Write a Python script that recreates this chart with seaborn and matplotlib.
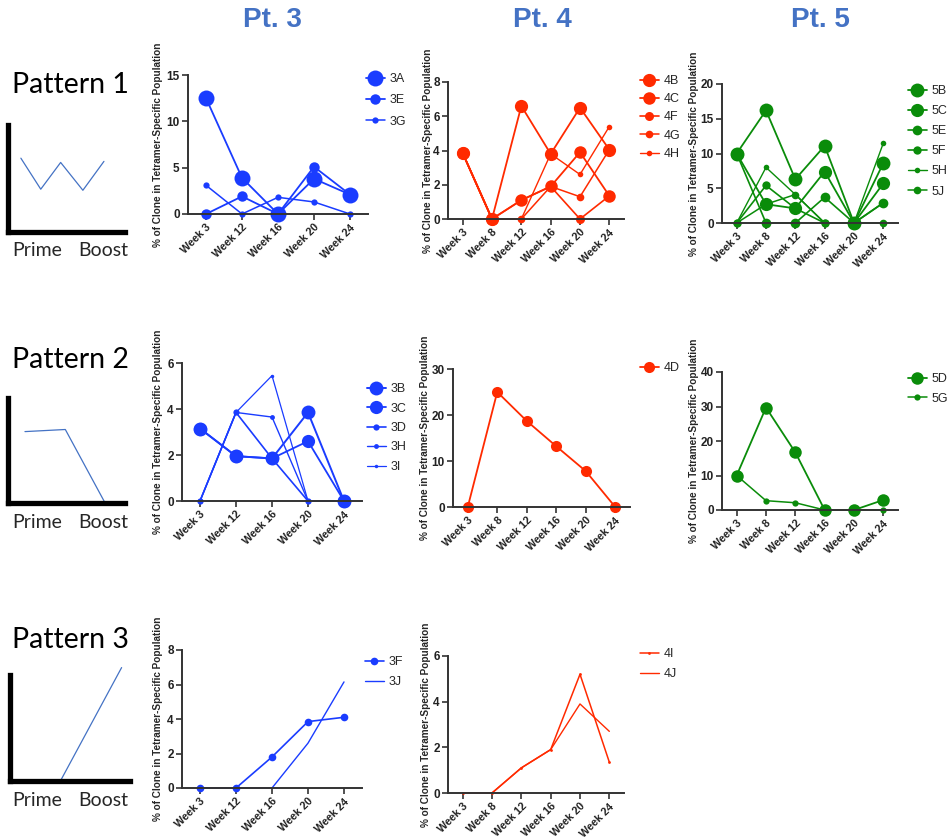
import matplotlib
matplotlib.use("Agg")
import matplotlib.pyplot as plt
from matplotlib.lines import Line2D
import seaborn as sns
import pandas as pd

W, H = 948, 839

weeks_pt3 = ["Week 3", "Week 12", "Week 16", "Week 20", "Week 24"]
weeks_pt45 = ["Week 3", "Week 8", "Week 12", "Week 16", "Week 20", "Week 24"]

# pattern 1 clones
c3A = [12.5, 3.9, 0, 3.8, 2.1]
c3E = [0, 1.9, 0, 5.1, 2.1]
c3G = [3.1, 0, 1.8, 1.3, 0]
c4B = [3.85, 0, 6.6, 3.8, 6.5, 4.05]
c4C = [3.85, 0, 1.1, 1.9, 3.9, 1.35]
c4F = [3.85, 0, 1.1, 1.9, 0, 1.35]
c4G = [3.85, 0, 0, 1.9, 1.3, 4.05]
c4H = [3.85, 0, 0, 3.8, 2.6, 5.4]
c5B = [10, 16.2, 6.3, 11.1, 0, 8.6]
c5C = [10, 2.7, 2.1, 7.4, 0, 5.7]
c5E = [10, 0, 0, 3.7, 0, 2.9]
c5F = [0, 5.4, 2.1, 0, 0, 2.9]
c5H = [0, 8.0, 4.1, 0, 0, 11.5]
c5J = [0, 2.7, 4.1, 0, 0, 0]

# pattern 2 clones
c3B = [3.15, 1.95, 1.85, 3.85, 0]
c3C = [3.15, 1.95, 1.85, 2.6, 0]
c3D = [0, 3.85, 1.85, 0, 0]
c3H = [0, 3.85, 3.65, 0, 0]
c3I = [0, 3.85, 5.45, 0, 0]
c4D = [0, 25, 18.7, 13.2, 7.8, 0]
c5D = [10, 29.7, 16.7, 0, 0, 2.9]
c5G = [10, 2.7, 2.1, 0, 0, 0]

# pattern 3 clones
c3F = [0, 0, 1.8, 3.85, 4.1]
c3J = [0, 0, 0, 2.6, 6.15]
c4I = [0, 0, 1.1, 1.9, 5.2, 1.35]
c4J = [0, 0, 1.1, 1.9, 3.9, 2.7]

# schematic shapes (left column)
sketch1_x = [0.11, 0.28, 0.45, 0.64, 0.82]
sketch1_y = [0.69, 0.40, 0.65, 0.39, 0.66]
sketch2_x = [0.145, 0.49, 0.83]
sketch2_y = [0.68, 0.70, 0.0]
sketch3_x = [0.42, 0.93]
sketch3_y = [0.0, 1.07]

BLUE = "#1a3cff"
RED = "#ff2a00"
GREEN = "#0a8c0a"
TITLE = "#4472c4"
YLABEL = "% of Clone in Tetramer-Specific Population"

sns.set_theme(style="ticks")
plt.rcParams["font.family"] = ["Liberation Sans", "DejaVu Sans"]

fig = plt.figure(figsize=(W / 100, H / 100), dpi=100)


def px_axes(l, t, r, b):
    return fig.add_axes([l / W, 1 - b / H, (r - l) / W, (b - t) / H])


def panel(box, weeks, series, color, yticks, leg_x, leg_y, spacing, label_x):
    ax = px_axes(*box)
    handles = []
    for name, vals, ms, lw in series:
        df = pd.DataFrame({"pos": range(len(weeks)), "value": vals})
        mk = "o" if ms > 0 else None
        sns.lineplot(data=df, x="pos", y="value", ax=ax, color=color,
                     marker=mk, markersize=ms, linewidth=lw,
                     markeredgewidth=0, estimator=None, sort=False,
                     clip_on=False)
        handles.append(Line2D([0], [0], color=color, marker=mk,
                              markersize=ms, lw=lw, markeredgewidth=0))
    ax.set_xlim(-0.5, len(weeks) - 0.5)
    ax.set_ylim(0, yticks[-1])
    ax.set_yticks(yticks)
    ax.set_yticklabels([str(v) for v in yticks], fontsize=8.5, fontweight="bold")
    ax.set_xticks(range(len(weeks)))
    ax.set_xticklabels(weeks, rotation=45, ha="right", rotation_mode="anchor",
                       fontsize=7.8, fontweight="bold")
    ax.set_xlabel("")
    ax.set_ylabel(YLABEL, fontsize=7.2, fontweight="bold")
    axw = box[2] - box[0]
    ax.yaxis.set_label_coords((label_x - box[0]) / axw, 0.5)
    sns.despine(ax=ax)
    for s in ("left", "bottom"):
        ax.spines[s].set_linewidth(1.4)
        ax.spines[s].set_color("#333333")
    ax.tick_params(length=4, width=1.2, color="#333333", pad=2,
                   labelcolor="#222222")
    ax.legend(handles, [s[0] for s in series], loc="upper left",
              bbox_to_anchor=(leg_x / W, 1 - leg_y / H),
              bbox_transform=fig.transFigure, frameon=False, fontsize=9,
              handlelength=1.5, handletextpad=0.4, borderpad=0,
              borderaxespad=0, labelspacing=spacing)
    return ax


# row 1: pattern 1
panel((188, 75, 368, 214), weeks_pt3,
      [("3A", c3A, 11.5, 1.3), ("3E", c3E, 7.5, 1.3), ("3G", c3G, 4.5, 1.1)],
      BLUE, [0, 5, 10, 15], 366, 73, 0.75, 163)
panel((448, 82, 624, 219), weeks_pt45,
      [("4B", c4B, 9.5, 1.3), ("4C", c4C, 9, 1.3), ("4F", c4F, 6.5, 1.2),
       ("4G", c4G, 5.5, 1.1), ("4H", c4H, 4, 1.0)],
      RED, [0, 2, 4, 6, 8], 640, 75, 0.5, 433)
panel((722, 84, 898, 223), weeks_pt45,
      [("5B", c5B, 10, 1.3), ("5C", c5C, 9.5, 1.3), ("5E", c5E, 7, 1.2),
       ("5F", c5F, 6, 1.2), ("5H", c5H, 4, 1.0), ("5J", c5J, 5.5, 1.1)],
      GREEN, [0, 5, 10, 15, 20], 908, 85, 0.65, 699)

# row 2: pattern 2
panel((182, 363, 362, 501), weeks_pt3,
      [("3B", c3B, 10, 1.4), ("3C", c3C, 9.5, 1.3), ("3D", c3D, 4.5, 1.2),
       ("3H", c3H, 3.5, 1.0), ("3I", c3I, 2.5, 0.9)],
      BLUE, [0, 2, 4, 6], 367, 383, 0.6, 163)
panel((453, 369, 630, 507), weeks_pt45,
      [("4D", c4D, 8, 1.3)],
      RED, [0, 10, 20, 30], 640, 362, 0.6, 430)
panel((722, 372, 898, 510), weeks_pt45,
      [("5D", c5D, 9, 1.3), ("5G", c5G, 4.5, 1.1)],
      GREEN, [0, 10, 20, 30, 40], 908, 373, 0.6, 699)

# row 3: pattern 3
panel((182, 650, 362, 788), weeks_pt3,
      [("3F", c3F, 5.5, 1.2), ("3J", c3J, 0, 1.0)],
      BLUE, [0, 2, 4, 6, 8], 365, 656, 0.65, 163)
panel((448, 656, 624, 793), weeks_pt45,
      [("4I", c4I, 2, 1.1), ("4J", c4J, 0, 1.0)],
      RED, [0, 2, 4, 6], 640, 648, 0.65, 431)

# column titles
for label, cx in [("Pt. 3", 272), ("Pt. 4", 542), ("Pt. 5", 820)]:
    fig.text(cx / W, 1 - 20 / H, label, ha="center", va="center",
             fontsize=20, fontweight="bold", color=TITLE)

# left column: pattern sketches
sketches = [
    ("Pattern 1", 85, (8, 125, 125, 232), sketch1_x, sketch1_y, 250),
    ("Pattern 2", 360, (8, 398, 125, 503), sketch2_x, sketch2_y, 523),
    ("Pattern 3", 640, (10, 675, 130, 781), sketch3_x, sketch3_y, 800),
]
for name, ty, box, sx, sy, ly in sketches:
    fig.text(12 / W, 1 - ty / H, name, ha="left", va="center",
             fontsize=20.5, family="Lato", color="black")
    sax = px_axes(*box)
    sns.lineplot(x=sx, y=sy, ax=sax, color=TITLE, linewidth=0.9,
                 estimator=None, sort=False, clip_on=False)
    sax.set_xlim(0, 1)
    sax.set_ylim(0, 1)
    sax.set_xticks([])
    sax.set_yticks([])
    sns.despine(ax=sax)
    for s in ("left", "bottom"):
        sax.spines[s].set_linewidth(3.8)
        sax.spines[s].set_color("black")
    fig.text(37 / W, 1 - ly / H, "Prime", ha="center", va="center",
             fontsize=14, family="Lato")
    fig.text(103 / W, 1 - ly / H, "Boost", ha="center", va="center",
             fontsize=14, family="Lato")

fig.savefig("out.png", dpi=100)
